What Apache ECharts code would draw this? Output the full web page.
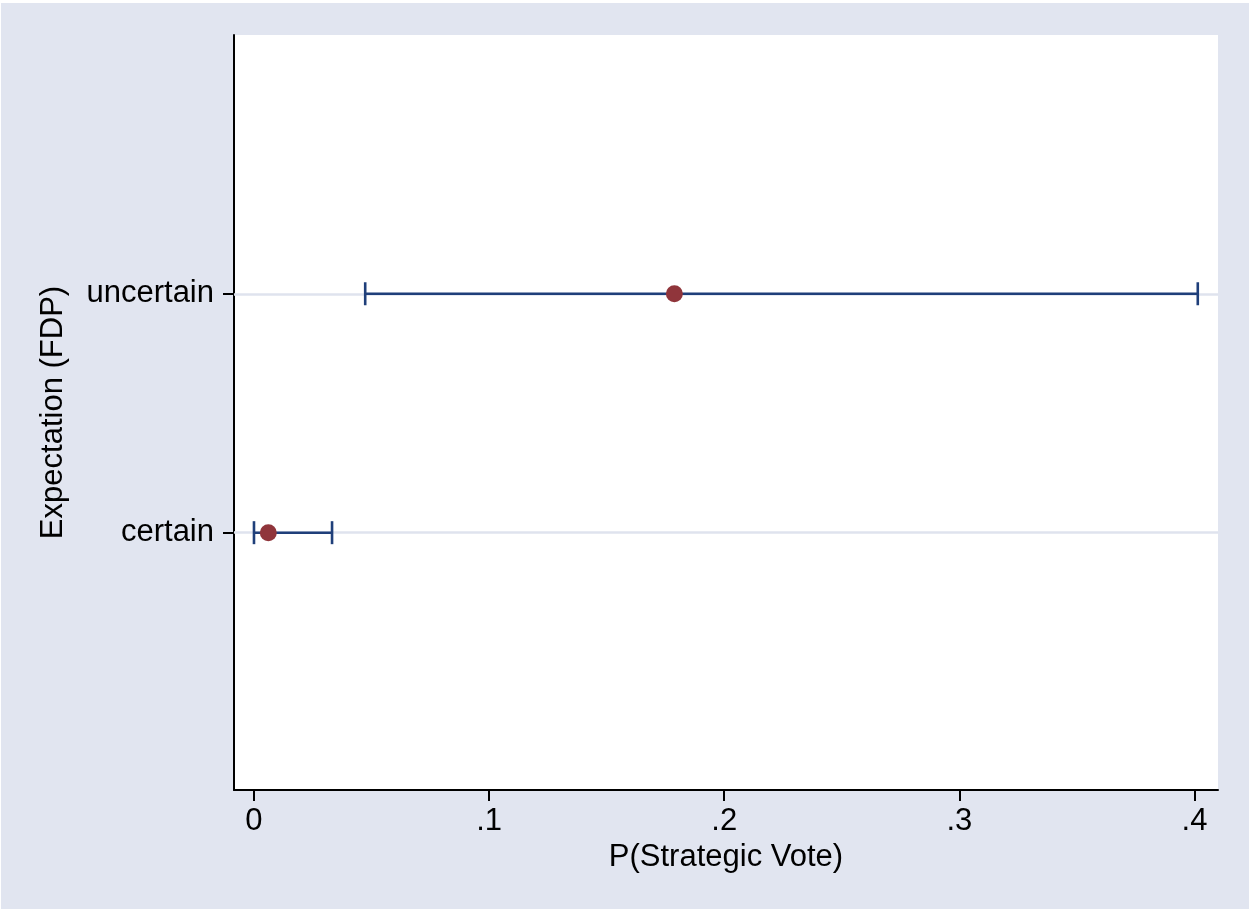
<!DOCTYPE html>
<html>
<head>
<meta charset="utf-8">
<script src="https://cdn.jsdelivr.net/npm/echarts@6/dist/echarts.min.js"></script>
<style>
  html, body { margin: 0; padding: 0; background: #ffffff; }
  #chart { position: absolute; left: 1px; top: 3px; width: 1248px; height: 906px; }
</style>
</head>
<body>
<div id="chart"></div>
<script>
// ---- data ----
const categories = ['certain', 'uncertain'];
const categoryPos = [1, 2];
const estimate = [0.0061, 0.1788];
const ciLow = [0.0000, 0.0473];
const ciHigh = [0.0332, 0.4014];
const xTicks = [0, 0.1, 0.2, 0.3, 0.4];
const xTickLabels = ['0', '.1', '.2', '.3', '.4'];

const FONT = '"Liberation Sans", Arial, Helvetica, sans-serif';
const FS = 31;
const NAVY = '#1f3f7a';
const MAROON = '#90353b';

const chart = echarts.init(document.getElementById('chart'));

const barData = categoryPos.map((p, i) => [ciLow[i], ciHigh[i], p]);
const pointData = categoryPos.map((p, i) => [estimate[i], p]);

chart.setOption({
  backgroundColor: '#e1e5f0',
  animation: false,
  grid: {
    left: 233, top: 32, right: 31, bottom: 119,
    show: true, backgroundColor: '#ffffff', borderWidth: 0
  },
  xAxis: {
    type: 'value',
    min: -0.0085, max: 0.41,
    name: 'P(Strategic Vote)',
    nameLocation: 'middle',
    nameGap: 48,
    nameTextStyle: { fontFamily: FONT, fontSize: FS, color: '#000' },
    axisLine: { show: true, onZero: false, lineStyle: { color: '#000', width: 2 } },
    axisTick: { show: true, length: 11, customValues: xTicks, lineStyle: { color: '#000', width: 2 } },
    axisLabel: {
      customValues: xTicks,
      margin: 16,
      fontFamily: FONT, fontSize: FS, color: '#000',
      formatter: function (v) {
        const idx = xTicks.findIndex(t => Math.abs(t - v) < 1e-9);
        return idx >= 0 ? xTickLabels[idx] : '';
      }
    },
    splitLine: { show: false }
  },
  yAxis: {
    type: 'value',
    min: -0.077, max: 3.083,
    name: 'Expectation (FDP)',
    nameLocation: 'middle',
    nameGap: 165,
    nameRotate: 90,
    nameTextStyle: { fontFamily: FONT, fontSize: FS, color: '#000' },
    axisLine: { show: true, onZero: false, lineStyle: { color: '#000', width: 2 } },
    axisTick: { show: true, length: 11, customValues: categoryPos, lineStyle: { color: '#000', width: 2 } },
    axisLabel: {
      customValues: categoryPos,
      margin: 20,
      fontFamily: FONT, fontSize: FS, color: '#000',
      formatter: function (v) {
        const idx = categoryPos.indexOf(Math.round(v));
        return idx >= 0 ? categories[idx] : '';
      }
    },
    splitLine: { show: false }
  },
  series: [
    {
      type: 'line',
      data: [],
      silent: true,
      z: 1,
      markLine: {
        silent: true,
        z: 1,
        symbol: ['none', 'none'],
        label: { show: false },
        emphasis: { disabled: true },
        lineStyle: { color: '#dfe3ee', width: 2.5, type: 'solid' },
        data: categoryPos.map(p => ({ yAxis: p }))
      }
    },
    {
      type: 'custom',
      z: 3,
      data: barData,
      renderItem: function (params, api) {
        const lo = api.coord([api.value(0), api.value(2)]);
        const hi = api.coord([api.value(1), api.value(2)]);
        const h = 11.5;
        const style = { stroke: NAVY, lineWidth: 2.6, fill: null };
        return {
          type: 'group',
          children: [
            { type: 'line', shape: { x1: lo[0], y1: lo[1], x2: hi[0], y2: hi[1] }, style: style },
            { type: 'line', shape: { x1: lo[0], y1: lo[1] - h, x2: lo[0], y2: lo[1] + h }, style: style },
            { type: 'line', shape: { x1: hi[0], y1: hi[1] - h, x2: hi[0], y2: hi[1] + h }, style: style }
          ]
        };
      }
    },
    {
      type: 'scatter',
      z: 4,
      data: pointData,
      symbol: 'circle',
      symbolSize: 17,
      itemStyle: { color: MAROON, opacity: 1 }
    }
  ]
});
</script>
</body>
</html>
